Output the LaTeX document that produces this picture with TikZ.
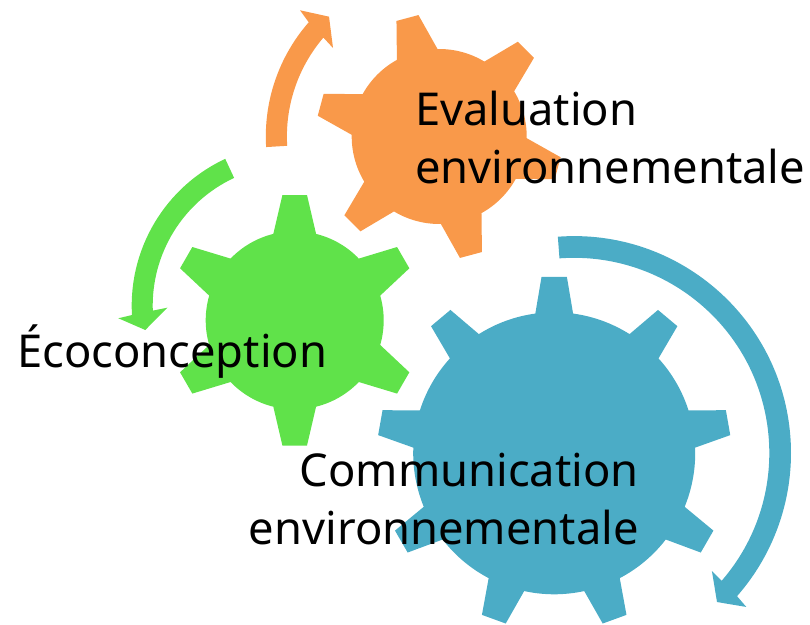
\documentclass[tikz,border=0pt]{standalone}
\usepackage{fontspec}
\setmainfont{Noto Sans}
\usepackage{xcolor}
\definecolor{gearorange}{HTML}{F9994A}
\definecolor{geargreen}{HTML}{60E24A}
\definecolor{gearblue}{HTML}{4BACC6}
\tikzstyle{label}=[
  inner sep=0pt,text=black,font=\fontsize{45.3}{57.5}\selectfont
]
% colour, centre, teeth, first tooth, body radius, tip radius, half base, half tip
\newcommand{\geartoothed}[8]{
  \pgfmathsetmacro{\stepa}{360/#3}
  \fill[#1,shift={(#2)}] ({#4-#7}:#5)
    \foreach \i in {1,...,#3} {
      -- ({#4+(\i-1)*\stepa-#8}:#6) -- ({#4+(\i-1)*\stepa+#8}:#6)
      -- ({#4+(\i-1)*\stepa+#7}:#5)
      arc[start angle={#4+(\i-1)*\stepa+#7},end angle={#4+\i*\stepa-#7},radius=#5]
    } -- cycle;
}
\begin{document}
\begin{tikzpicture}[x=1pt,y=1pt]
    \useasboundingbox (0,0) rectangle (810,624);
    %Gears
    \geartoothed{gearorange}{439.2,487.5}{6}{45}{87.5}{123.2}{13.9}{5.3}
    \geartoothed{geargreen}{294.7,303.7}{6}{90}{89}{125.9}{13.9}{5.6}
    \geartoothed{gearblue}{554.2,170.7}{9}{90}{141}{177}{7.7}{4.1}
    %Arrows
    \fill[gearorange,shift={(439.2,487.5)}] (183.5:173.4) arc[start angle=183.5,end angle=138.8,radius=173.4]
      -- (137.8:187.9) -- (132.6:162.8) -- (140.2:138.2) -- (139.5:152.3)
      arc[start angle=139.5,end angle=183.5,radius=152.3] -- cycle;
    \fill[geargreen,shift={(293.7,318.3)}] (115:162) arc[start angle=115,end angle=183.3,radius=162]
      -- (184.1:175.8) -- (189.3:150.4) -- (180.9:126.4) -- (182:141)
      arc[start angle=182,end angle=115,radius=141] -- cycle;
    \fill[gearblue,shift={(574.1,171)}] (94.3:216.9) arc[start angle=94.3,end angle=-41.3,radius=216.9]
      -- (-41.8:231) -- (-46.2:206.5) -- (-40.6:181.5) -- (-40.9:195.2)
      arc[start angle=-40.9,end angle=94.3,radius=195.2] -- cycle;
    %Labels
    \node[label,anchor=west,align=left]  (evaluation)    at (415,486.5) {Evaluation\\environnementale};
    \node[label,anchor=base west]        (ecoconception) at (17,256)    {Écoconception};
    \node[label,anchor=east,align=right] (communication) at (639,125)   {Communication\\environnementale};
\end{tikzpicture}
\end{document}
